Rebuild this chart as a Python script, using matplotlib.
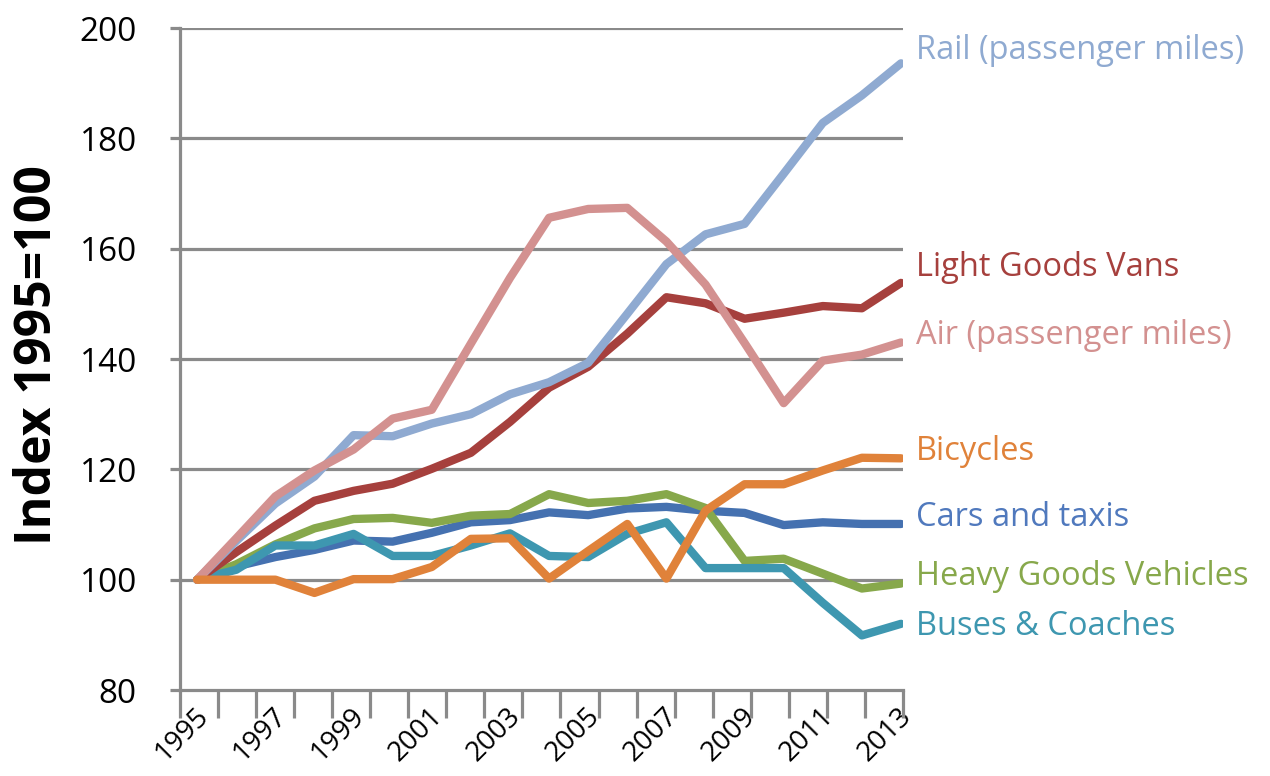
import matplotlib
matplotlib.use("Agg")
import matplotlib.pyplot as plt
from matplotlib.transforms import ScaledTranslation
import numpy as np

plt.rcParams['font.family'] = ['Open Sans', 'DejaVu Sans']

# Data (index 1995 = 100)
years = list(range(1995, 2014))
rail = [100, 107, 113.8, 118.7, 126.2, 126, 128.3, 130, 133.6, 135.8, 139.3, 148.2, 157.2, 162.6, 164.5, 173.6, 182.8, 187.8, 193.6]
air = [100, 107.5, 115.1, 119.8, 123.6, 129.2, 130.8, 142.8, 154.7, 165.6, 167.2, 167.4, 161.3, 153.5, 142.9, 132, 139.7, 140.8, 143]
vans = [100, 105, 109.8, 114.3, 116.1, 117.4, 120.1, 123, 128.6, 134.8, 138.6, 144.6, 151.2, 150.1, 147.3, 148.4, 149.6, 149.2, 153.8]
bicycles = [100, 100, 100, 97.6, 100.1, 100.1, 102.3, 107.4, 107.5, 100.2, 105.2, 110.1, 100.2, 112.5, 117.3, 117.3, 119.8, 122.1, 122]
cars = [100, 102.4, 104.1, 105.4, 107.1, 106.9, 108.5, 110.4, 110.8, 112.2, 111.7, 112.9, 113.2, 112.5, 112.1, 109.9, 110.4, 110.1, 110.1]
hgv = [100, 102.8, 106.4, 109.3, 111, 111.2, 110.3, 111.6, 111.9, 115.5, 113.9, 114.3, 115.5, 113, 103.4, 103.8, 101.1, 98.4, 99.3]
buses = [100, 101.8, 106.2, 106.2, 108.3, 104.3, 104.3, 106.2, 108.4, 104.3, 104.1, 108.3, 110.4, 102.1, 102.1, 102.1, 95.8, 89.9, 92]

# label heights at right end (data units)
series = [
    ('Cars and taxis', cars, '#4571B0', '#5079BD', 111.2),
    ('Heavy Goods Vehicles', hgv, '#87A84B', '#87A84B', 100.6),
    ('Buses & Coaches', buses, '#3E97B0', '#3E97B0', 91.5),
    ('Light Goods Vans', vans, '#A6403D', '#A6403D', 156.6),
    ('Rail (passenger miles)', rail, '#8FAAD1', '#8FAAD1', 195.9),
    ('Air (passenger miles)', air, '#D39190', '#D39190', 144.3),
    ('Bicycles', bicycles, '#E0823A', '#E0823A', 123.3),
]

fig = plt.figure(figsize=(12.7, 7.76), dpi=100)
ax = fig.add_axes([0.1417, 0.1108, 0.5693, 0.8531])

x = np.arange(len(years))
for name, vals, col, tcol, ly in series:
    ax.plot(x, vals, color=col, lw=6, solid_capstyle='round', solid_joinstyle='round', zorder=3)
    ax.annotate(name, xy=(x[-1], ly), xytext=(11, 0), textcoords='offset points',
                va='center', ha='left', fontsize=23.5, color=tcol, annotation_clip=False)

grey = '#8A8A8A'
ax.set_ylim(80, 200)
ax.set_xlim(-0.44, 18.05)
ax.set_yticks(range(80, 201, 20))
for v in range(100, 201, 20):
    ax.axhline(v, color=grey, lw=2.3, zorder=1)

for s in ['top', 'right']:
    ax.spines[s].set_visible(False)
for s in ['left', 'bottom']:
    ax.spines[s].set_color(grey)
    ax.spines[s].set_linewidth(2.3)

ax.tick_params(axis='y', length=7, width=2.3, color=grey, labelsize=24, pad=24)

# tick labels every other year, tick marks between
ax.set_xticks(x[::2])
ax.set_xticklabels([str(y) for y in years[::2]], rotation=45, ha='right',
                   va='top', rotation_mode='anchor', fontsize=20)
ax.tick_params(axis='x', length=0, pad=9)
shift = ScaledTranslation(-0.03, 0, fig.dpi_scale_trans)
for lab in ax.get_xticklabels():
    lab.set_transform(lab.get_transform() + shift)
ax.set_xticks(np.linspace(-0.44, 18.05, 20), minor=True)
ax.tick_params(axis='x', which='minor', length=20, width=2.3, color=grey)

ax.set_ylabel('Index 1995=100', fontsize=36, fontweight='bold')
ax.yaxis.set_label_coords(-0.162, 0.506)

fig.savefig('out.png', dpi=100)
